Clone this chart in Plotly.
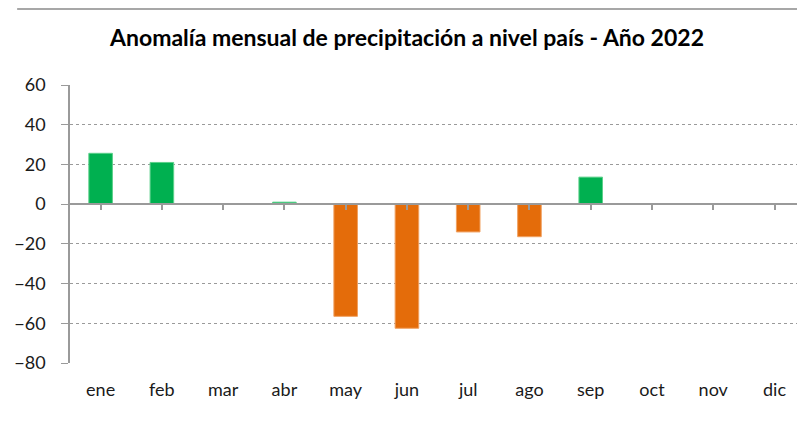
import plotly.graph_objects as go

meses = ["ene", "feb", "mar", "abr", "may", "jun", "jul", "ago", "sep", "oct", "nov", "dic"]
anomalia = [25.6, 21.0, None, 1.0, -56.5, -62.5, -14.0, -16.4, 13.6, None, None, None]

verde = "#00B050"
naranja = "#E46C0A"
colores = [verde if (v is not None and v >= 0) else naranja for v in anomalia]
bordes = ["#5CD08A" if (v is not None and v >= 0) else "#F0A060" for v in anomalia]

# page has an 8px body margin, so the figure is sized/offset to compensate
W, H = 797, 415
ML, MR, MT, MB = 60, 6, 77, 60
plot_h = H - MT - MB
plot_w = W - ML - MR

fig = go.Figure()
fig.add_trace(go.Bar(x=meses, y=anomalia,
                     marker_color=colores,
                     marker_line_color=bordes,
                     marker_line_width=1,
                     width=0.385,
                     showlegend=False,
                     hovertemplate="%{x}: %{y}<extra></extra>"))
# invisible trace so the zero-line axis with its tick marks gets drawn
fig.add_trace(go.Scatter(x=meses, y=[0]*12, xaxis="x2", mode="markers",
                         marker_opacity=0, showlegend=False, hoverinfo="skip"))

ymin, ymax = -80, 60

fig.update_layout(
    width=W, height=H,
    margin=dict(l=ML, r=MR, t=MT, b=MB),
    paper_bgcolor="white", plot_bgcolor="white",
    font=dict(family="Lato, Carlito, Calibri, sans-serif", size=18, color="#1a1a1a"),
    title=dict(text="<b>Anomalía mensual de precipitación a nivel país - Año 2022</b>",
               x=(407 - 8) / W, xref="container", xanchor="center",
               y=1 - 30 / H, yref="container", yanchor="middle",
               font=dict(size=23, color="#000000")),
    xaxis=dict(type="category", range=[-0.5, 11.4], showgrid=False, showline=False,
               zeroline=False, ticks="", tickfont=dict(size=18), ticklabelstandoff=14),
    xaxis2=dict(type="category", overlaying="x", matches="x", anchor="free",
                position=(0 - ymin) / (ymax - ymin), side="bottom",
                showline=True, linecolor="#9a9a9a", linewidth=1.5,
                ticks="outside", ticklen=5, tickcolor="#9a9a9a", tickwidth=1.5,
                showticklabels=False, showgrid=False, zeroline=False),
    yaxis=dict(range=[ymin, ymax], dtick=20, tick0=0,
               showgrid=True, gridcolor="#9a9a9a", griddash="3px,3px", gridwidth=1,
               zeroline=False, showline=True, linecolor="#9a9a9a", linewidth=1.5,
               ticks="outside", ticklen=7, tickcolor="#9a9a9a",
               tickfont=dict(size=18), ticklabelstandoff=12),
)

# thin border line at the top of the chart area
top_y = (H - MB - 1) / plot_h
fig.add_shape(type="line", xref="paper", yref="paper",
              x0=(15 - 8 - ML) / plot_w, x1=1.0, y0=top_y, y1=top_y,
              line=dict(color="#8a8a8a", width=1.5))

fig.write_html("out.html")
